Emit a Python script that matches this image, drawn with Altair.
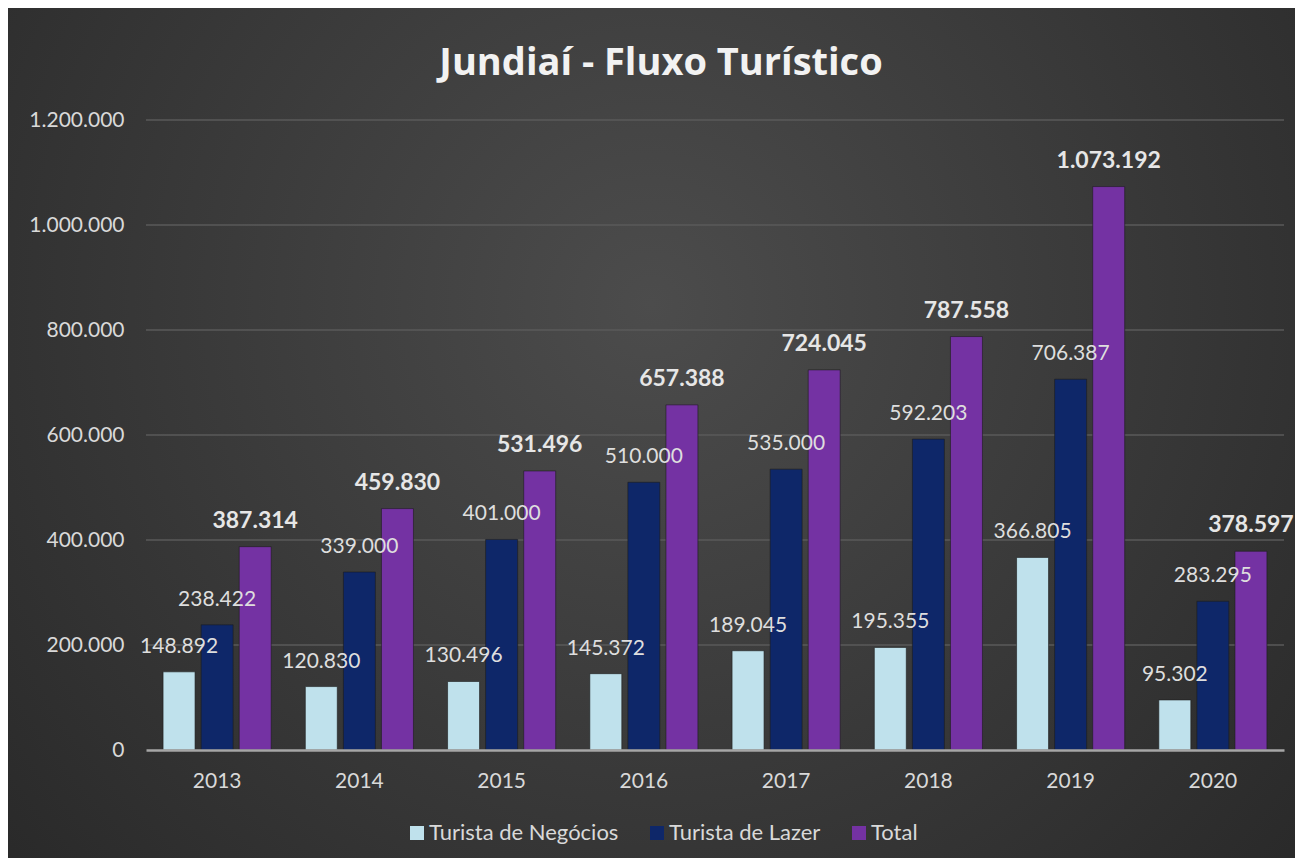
import altair as alt
import pandas as pd

years = ["2013", "2014", "2015", "2016", "2017", "2018", "2019", "2020"]
series = ["Turista de Negócios", "Turista de Lazer", "Total"]
negocios = [148892, 120830, 130496, 145372, 189045, 195355, 366805, 95302]
lazer = [238422, 339000, 401000, 510000, 535000, 592203, 706387, 283295]
total = [387314, 459830, 531496, 657388, 724045, 787558, 1073192, 378597]
y_ticks = [0, 200000, 400000, 600000, 800000, 1000000, 1200000]
colors = ["#bfe1ec", "#0e2769", "#7432a3"]

rows = []
for i, y in enumerate(years):
    for s, vals in zip(series, [negocios, lazer, total]):
        v = vals[i]
        rows.append({"year": y, "series": s, "value": v,
                     "label": f"{v:,}".replace(",", ".")})
df = pd.DataFrame(rows)
grid_df = pd.DataFrame({"v": y_ticks[1:]})

W, H = 1138, 630
PL, PT, PR, PB = 138, 112, 11, 108
FONT = "Lato"

bg = alt.Chart(pd.DataFrame({"a": [0]})).mark_rect(
    fill=alt.Gradient(
        gradient="radial",
        stops=[alt.GradientStop(offset=0, color="#4c4c4c"),
               alt.GradientStop(offset=1, color="#252525")],
        x1=0.5, y1=0.4, r1=0, x2=0.5, y2=0.4, r2=0.75,
    )
).encode(x=alt.value(-PL), x2=alt.value(W + PR), y=alt.value(-PT), y2=alt.value(H + PB))

grid = alt.Chart(grid_df).mark_rule(color="#5a5a5a", strokeWidth=1.5).encode(
    y=alt.Y("v:Q", scale=alt.Scale(domain=[0, 1200000]))
)

xenc = alt.X("year:N", sort=years,
             scale=alt.Scale(paddingInner=0.24, paddingOuter=0.12),
             axis=alt.Axis(title=None, labelAngle=0, labelFontSize=21, labelFont=FONT,
                           labelColor="#d9d9d9", labelPadding=20, ticks=False,
                           domainColor="#a6a6a6", domainWidth=2.5, zindex=1))
yenc = alt.Y("value:Q", scale=alt.Scale(domain=[0, 1200000]),
             axis=alt.Axis(title=None, values=y_ticks, grid=False, domain=False, ticks=False,
                           labelFontSize=21, labelFont=FONT, labelColor="#d9d9d9",
                           labelPadding=22, zindex=1,
                           labelExpr="replace(replace(format(datum.value, ','), ',', '.'), ',', '.')"))
xoff = alt.XOffset("series:N", sort=series, scale=alt.Scale(paddingInner=0.16, paddingOuter=0))

bars = alt.Chart(df).mark_bar(stroke="#1c1c1c", strokeWidth=1, strokeOpacity=0.6).encode(
    x=xenc, y=yenc, xOffset=xoff,
    color=alt.Color("series:N", sort=series,
                    scale=alt.Scale(domain=series, range=colors),
                    legend=alt.Legend(title=None, orient="none", legendX=260, legendY=702,
                                      direction="horizontal", symbolType="square",
                                      symbolSize=196, symbolStrokeWidth=0,
                                      labelFontSize=22, labelFont=FONT, labelColor="#d9d9d9",
                                      labelLimit=400, columnPadding=27, labelOffset=1,
                                      zindex=1)),
)

text_norm = alt.Chart(df).transform_filter(alt.datum.series != "Total").mark_text(
    baseline="alphabetic", dy=-19, fontSize=21, font=FONT, color="#dedede"
).encode(x=xenc, y=yenc, xOffset=xoff, text="label:N")

text_total = alt.Chart(df).transform_filter(alt.datum.series == "Total").mark_text(
    baseline="alphabetic", dy=-19, fontSize=23, font=FONT, fontWeight="bold", color="#e6e6e6"
).encode(x=xenc, y=yenc, xOffset=xoff, text="label:N")

chart = alt.layer(bg, grid, bars, text_norm, text_total).properties(
    width=W, height=H,
    padding={"left": PL, "top": PT, "right": PR, "bottom": PB},
    autosize=alt.AutoSizeParams(type="none"),
    background="#333333",
    title=alt.TitleParams("Jundiaí - Fluxo Turístico", font="Open Sans", fontSize=38,
                          fontWeight="bold", color="#f2f2f2", anchor="middle",
                          dx=-54, offset=-75, zindex=1),
).configure_view(stroke=None)

chart.save("out.html", embed_options={"renderer": "svg", "actions": False})
